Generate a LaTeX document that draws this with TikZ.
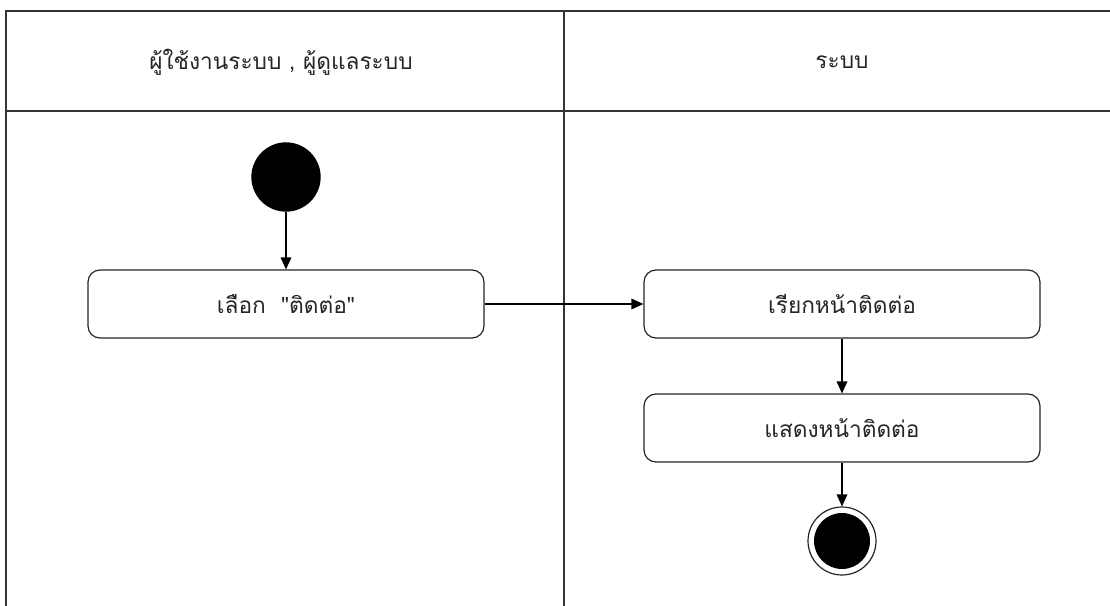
\documentclass[tikz,border=0pt]{standalone}
\usepackage{fontspec}
\newfontfamily\thaifont[Script=Thai]{Loma}
\usetikzlibrary{arrows.meta}
\begin{document}
\begin{tikzpicture}[x=0.75pt,y=-0.75pt,
  lane/.style={draw=black!80,line width=1pt},
  act/.style={draw=black!85,line width=0.9pt,rounded corners=9pt,minimum width=297pt,minimum height=51pt,inner sep=0pt,text=black!85,font=\thaifont\fontsize{17}{20}\selectfont},
  start/.style={circle,fill=black,minimum size=52pt,inner sep=0pt},
  stopnode/.style={circle,draw=black!85,line width=0.9pt,minimum size=51pt,inner sep=0pt,path picture={\fill[black] (path picture bounding box.center) circle (21pt);}},
  flow/.style={draw=black,line width=0.9pt,-{Triangle[length=9pt,width=8pt]}},
  head/.style={text=black!85,font=\thaifont\fontsize{17}{20}\selectfont}]
\useasboundingbox (0,0) rectangle (1110,606);
\fill[white] (0,0) rectangle (1110,606);
\draw[lane] (6,606) -- (6,11) -- (1110,11);
\draw[lane] (6,111) -- (1110,111);
\draw[lane] (564,11) -- (564,606);
\node[head] (h1) at (281,62) {ผู้ใช้งานระบบ , ผู้ดูแลระบบ};
\node[head] (h2) at (842,62) {ระบบ};
\node[start] (s) at (286,177) {};
\node[act] (a1) at (286,304) {เลือก\ \ "ติดต่อ"};
\node[act] (a2) at (842,304) {เรียกหน้าติดต่อ};
\node[act] (a3) at (842,428) {แสดงหน้าติดต่อ};
\node[stopnode] (e) at (842,541) {};
\draw[flow] (s) -- (a1);
\draw[flow] (a1) -- (a2);
\draw[flow] (a2) -- (a3);
\draw[flow] (a3) -- (e);
\end{tikzpicture}
\end{document}
